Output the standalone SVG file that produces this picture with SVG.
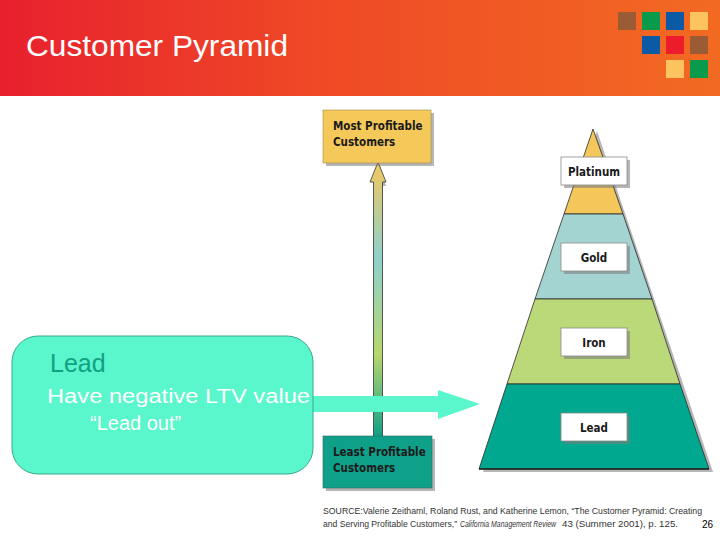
<svg xmlns="http://www.w3.org/2000/svg" width="720" height="540" viewBox="0 0 720 540">
<defs>
<linearGradient id="hdr" x1="0" y1="0" x2="1" y2="0">
<stop offset="0" stop-color="#e8202e"/>
<stop offset="0.45" stop-color="#ef4a26"/>
<stop offset="1" stop-color="#f26a22"/>
</linearGradient>
<linearGradient id="vgrad" x1="0" y1="0" x2="0" y2="1">
<stop offset="0" stop-color="#f2c85c"/>
<stop offset="0.35" stop-color="#8fd0cc"/>
<stop offset="0.7" stop-color="#b8d66e"/>
<stop offset="1" stop-color="#0f9f88"/>
</linearGradient>
<style>
.lbl{fill:#ffffff;stroke:#8a8a8a;stroke-width:0.8}
.shadow{fill:#7a7a7a;opacity:0.55}
.bold{font-family:"DejaVu Sans Condensed","DejaVu Sans",sans-serif;font-weight:bold;font-size:11.5px;fill:#1a1a1a}
.src{font-family:"Liberation Sans",sans-serif;font-size:9px;fill:#333333}
.edge{stroke:#2a2a2a;stroke-width:0.8}
</style>
</defs>
<rect width="720" height="540" fill="#ffffff"/>
<g id="header">
<rect x="0" y="0" width="720" height="96" fill="url(#hdr)"/>
<text x="26" y="56" font-family="Liberation Sans, sans-serif" font-size="30" fill="#ffffff" textLength="262" lengthAdjust="spacingAndGlyphs">Customer Pyramid</text>
<rect x="618" y="12" width="18" height="18" fill="#9b5b34"/>
<rect x="642" y="12" width="18" height="18" fill="#0a9a4c"/>
<rect x="666" y="12" width="18" height="18" fill="#0b5aa6"/>
<rect x="690" y="12" width="18" height="18" fill="#fcc35e"/>
<rect x="642" y="36" width="18" height="18" fill="#0b5aa6"/>
<rect x="666" y="36" width="18" height="18" fill="#ec1c2a"/>
<rect x="690" y="36" width="18" height="18" fill="#9b5b34"/>
<rect x="666" y="60" width="18" height="18" fill="#fcc35e"/>
<rect x="690" y="60" width="18" height="18" fill="#0a9a4c"/>
</g>
<g id="pyramid">
<polygon points="597,131 713,472 483,472" class="shadow"/>
<polygon points="593,129 623,214 564,214" fill="#f4c75a" class="edge"/>
<polygon points="564,214 623,214 652,299 535,299" fill="#a4d4d2" class="edge"/>
<polygon points="535,299 652,299 680,384 507,384" fill="#bcd97a" class="edge"/>
<polygon points="507,384 680,384 709,469 479,469" fill="#00a88f" class="edge"/>
<line x1="479" y1="469" x2="709" y2="469" stroke="#222" stroke-width="1.5"/>
</g>
<g id="platinum">
<rect x="564" y="160" width="66" height="28" class="shadow"/>
<rect x="561" y="157" width="66" height="28" class="lbl"/>
<text x="594" y="175.5" text-anchor="middle" class="bold">Platinum</text>
</g>
<g id="gold">
<rect x="564" y="246" width="66" height="28" class="shadow"/>
<rect x="561" y="243" width="66" height="28" class="lbl"/>
<text x="594" y="261.5" text-anchor="middle" class="bold">Gold</text>
</g>
<g id="iron">
<rect x="564" y="331" width="66" height="28" class="shadow"/>
<rect x="561" y="328" width="66" height="28" class="lbl"/>
<text x="594" y="346.5" text-anchor="middle" class="bold">Iron</text>
</g>
<g id="lead">
<rect x="564" y="416" width="66" height="28" class="shadow"/>
<rect x="561" y="413" width="66" height="28" class="lbl"/>
<text x="594" y="431.5" text-anchor="middle" class="bold">Lead</text>
</g>
<g id="connectors">
<path d="M375.5,437 L375.5,184 L372,184 L378,164 L384,184 L380.5,184 L380.5,437 Z" class="shadow" transform="translate(2,2)"/>
<path d="M373.5,437 L373.5,182 L370,182 L378,162 L386,182 L382.5,182 L382.5,437 Z" fill="url(#vgrad)" stroke="#333" stroke-width="0.8"/>
<path d="M312,396 L438,396 L438,390 L480,404 L438,419 L438,412 L312,412 Z" fill="#5af7cc"/>
</g>
<g id="most-profitable">
<rect x="326" y="113" width="108" height="53" class="shadow"/>
<rect x="323" y="110" width="108" height="53" fill="#f5c85a" stroke="#a08a50" stroke-width="0.6"/>
<text x="333" y="130" class="bold">Most Profitable</text>
<text x="333" y="146" class="bold">Customers</text>
</g>
<g id="least-profitable">
<rect x="326" y="439" width="109" height="52" class="shadow"/>
<rect x="323" y="436" width="109" height="52" fill="#0fa08a" stroke="#2a6a5a" stroke-width="0.6"/>
<text x="333" y="456" class="bold">Least Profitable</text>
<text x="333" y="472" class="bold">Customers</text>
</g>
<g id="lead-note">
<rect x="12" y="336" width="301" height="138" rx="26" ry="26" fill="#5af7cc" stroke="#3aa88e" stroke-width="1"/>
<text x="50" y="372" font-family="Liberation Sans, sans-serif" font-size="25" fill="#12a084">Lead</text>
<text x="47" y="403" font-family="Liberation Sans, sans-serif" font-size="20" fill="#ffffff" textLength="263" lengthAdjust="spacingAndGlyphs">Have negative LTV value</text>
<text x="90" y="430" font-family="Liberation Sans, sans-serif" font-size="20" fill="#ffffff">“Lead out”</text>
</g>
<g id="source">
<text x="323" y="514" class="src" textLength="379" lengthAdjust="spacingAndGlyphs">SOURCE:Valerie Zeithaml, Roland Rust, and Katherine Lemon, “The Customer Pyramid: Creating</text>
<text x="323" y="527" class="src" textLength="134" lengthAdjust="spacingAndGlyphs">and Serving Profitable Customers,”</text>
<text x="460" y="527" class="src" font-style="italic" textLength="96" lengthAdjust="spacingAndGlyphs">California Management Review</text>
<text x="562" y="527" class="src" textLength="116" lengthAdjust="spacingAndGlyphs">43 (Summer 2001), p. 125.</text>
<text x="702" y="528" font-family="Liberation Sans, sans-serif" font-size="10" fill="#000">26</text>
</g>
</svg>
